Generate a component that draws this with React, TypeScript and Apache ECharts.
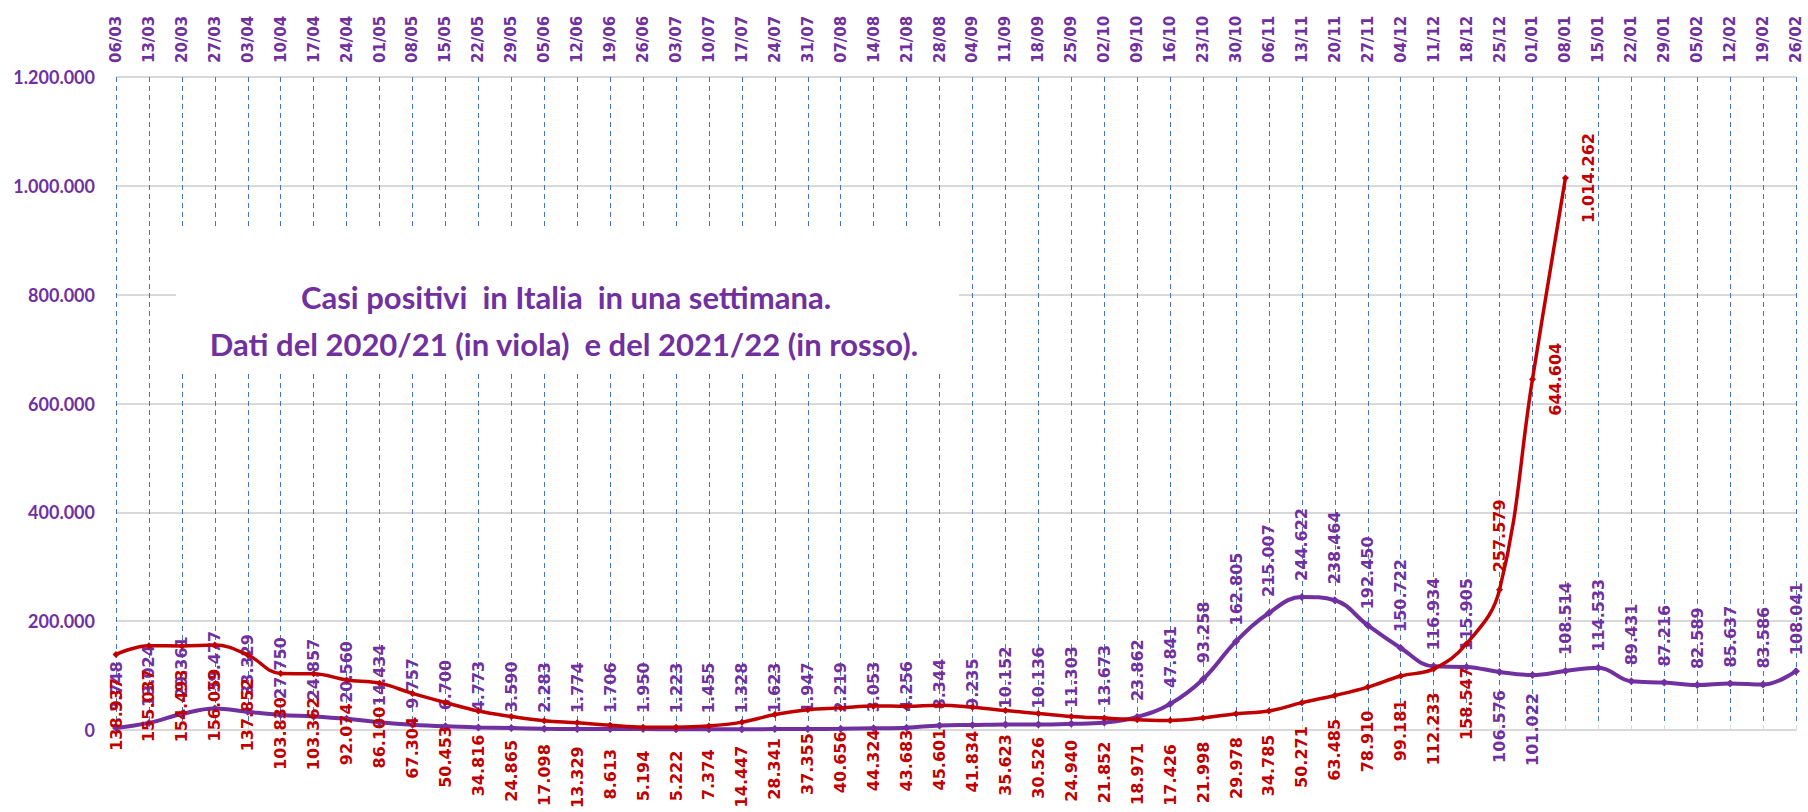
import React, { useEffect, useRef } from 'react';
import * as echarts from 'echarts';

const categories = [
  '06/03', '13/03', '20/03', '27/03', '03/04', '10/04', '17/04', '24/04', '01/05', '08/05',
  '15/05', '22/05', '29/05', '05/06', '12/06', '19/06', '26/06', '03/07', '10/07', '17/07',
  '24/07', '31/07', '07/08', '14/08', '21/08', '28/08', '04/09', '11/09', '18/09', '25/09',
  '02/10', '09/10', '16/10', '23/10', '30/10', '06/11', '13/11', '20/11', '27/11', '04/12',
  '11/12', '18/12', '25/12', '01/01', '08/01', '15/01', '22/01', '29/01', '05/02', '12/02',
  '19/02', '26/02',
];

// 2020/21 (viola)
const cases2020 = [
  3748, 13024, 29361, 39477, 33329, 27750, 24857, 20560, 14434, 9757,
  6700, 4773, 3590, 2283, 1774, 1706, 1950, 1223, 1455, 1328,
  1623, 1947, 2219, 3053, 4256, 8344, 9235, 10152, 10136, 11303,
  13673, 23862, 47841, 93258, 162805, 215007, 244622, 238464, 192450, 150722,
  116934, 115905, 106576, 101022, 108514, 114533, 89431, 87216, 82589, 85637,
  83586, 108041,
];

// 2021/22 (rosso)
const cases2021 = [
  138937, 155037, 154493, 156059, 137852, 103830, 103362, 92074, 86100, 67304,
  50453, 34816, 24865, 17098, 13329, 8613, 5194, 5222, 7374, 14447,
  28341, 37355, 40656, 44324, 43683, 45601, 41834, 35623, 30526, 24940,
  21852, 18971, 17426, 21998, 29978, 34785, 50271, 63485, 78910, 99181,
  112233, 158547, 257579, 644604, 1014262,
];

const yTicks = { min: 0, max: 1200000, interval: 200000 };

const titleLines = [
  'Casi positivi  in Italia  in una settimana.',
  'Dati del 2020/21 (in viola)  e del 2021/22 (in rosso).',
];

const PURPLE = '#7030A0';
const RED = '#C00000';

const fmt = (v: number) => String(Math.round(v)).replace(/\B(?=(\d{3})+(?!\d))/g, '.');

export default function App() {
  const ref = useRef<HTMLDivElement>(null);

  useEffect(() => {
    document.body.style.margin = '0';
    const chart = echarts.init(ref.current!, null, { renderer: 'svg' });

    const labelFont = { fontFamily: 'DejaVu Sans', fontWeight: 'bold' as const, fontSize: 16 };

    // purple labels below the point where the red curve climbs through them
    const purpleBelow = [42, 43];
    const purpleData = cases2020.map((v, i) => {
      if (purpleBelow.includes(i)) {
        return { value: v, label: { position: 'bottom', align: 'right', distance: 14 } };
      }
      return { value: v };
    });

    const redData = cases2021.map((v, i) => {
      if (i === 42) return { value: v, label: { position: 'top', align: 'left', distance: 14 } };
      if (i === 43 || i === 44) return { value: v, label: { position: 'right', align: 'center', distance: 20 } };
      return { value: v };
    });

    chart.setOption({
      animation: false,
      backgroundColor: '#ffffff',
      grid: { left: 116, right: 12, top: 77, bottom: 82, containLabel: false },
      xAxis: {
        type: 'category',
        position: 'top',
        boundaryGap: false,
        data: categories,
        axisLine: { show: true, lineStyle: { color: '#D9D9D9', width: 2 } },
        axisTick: { show: true, length: 5, lineStyle: { color: '#D9D9D9', width: 1 } },
        axisLabel: {
          rotate: 90,
          margin: 14,
          color: PURPLE,
          fontFamily: 'DejaVu Sans',
          fontWeight: 'bold',
          fontSize: 15,
          interval: 0,
        },
        splitLine: {
          show: true,
          interval: 0,
          lineStyle: { color: '#4472C4', type: [5, 4], width: 1 },
        },
      },
      yAxis: {
        type: 'value',
        min: yTicks.min,
        max: yTicks.max,
        interval: yTicks.interval,
        axisLine: { show: false },
        axisTick: { show: false },
        axisLabel: {
          margin: 21,
          color: PURPLE,
          fontFamily: 'Lato',
          fontWeight: 'bold',
          fontSize: 18,
          formatter: (v: number) => fmt(v),
        },
        splitLine: { show: true, lineStyle: { color: '#D9D9D9', width: 2 } },
      },
      graphic: [
        {
          type: 'rect',
          z: 100,
          shape: { x: 176, y: 229, width: 783, height: 142 },
          style: { fill: '#ffffff' },
        },
        {
          type: 'text',
          z: 101,
          x: 566,
          y: 297,
          style: {
            text: titleLines[0],
            fill: PURPLE,
            font: 'bold 31px Lato',
            align: 'center',
            verticalAlign: 'middle',
          },
        },
        {
          type: 'text',
          z: 101,
          x: 564,
          y: 344,
          style: {
            text: titleLines[1],
            fill: PURPLE,
            font: 'bold 31px Lato',
            align: 'center',
            verticalAlign: 'middle',
          },
        },
      ],
      series: [
        {
          name: '2020/21',
          type: 'line',
          data: purpleData,
          smooth: 0.4,
          symbol: 'diamond',
          symbolSize: 8,
          lineStyle: { color: PURPLE, width: 4 },
          itemStyle: { color: PURPLE },
          label: {
            show: true,
            position: 'top',
            rotate: 90,
            align: 'left',
            verticalAlign: 'middle',
            distance: 12,
            color: PURPLE,
            ...labelFont,
            formatter: (p: any) => fmt(p.value),
          },
          z: 2,
        },
        {
          name: '2021/22',
          type: 'line',
          data: redData,
          smooth: 0.4,
          symbol: 'diamond',
          symbolSize: 7,
          lineStyle: { color: RED, width: 3.5 },
          itemStyle: { color: RED },
          label: {
            show: true,
            position: 'bottom',
            rotate: 90,
            align: 'right',
            verticalAlign: 'middle',
            distance: 20,
            color: RED,
            ...labelFont,
            formatter: (p: any) => fmt(p.value),
          },
          z: 3,
        },
      ],
    });

    return () => chart.dispose();
  }, []);

  return <div ref={ref} style={{ width: 1808, height: 812 }} />;
}
